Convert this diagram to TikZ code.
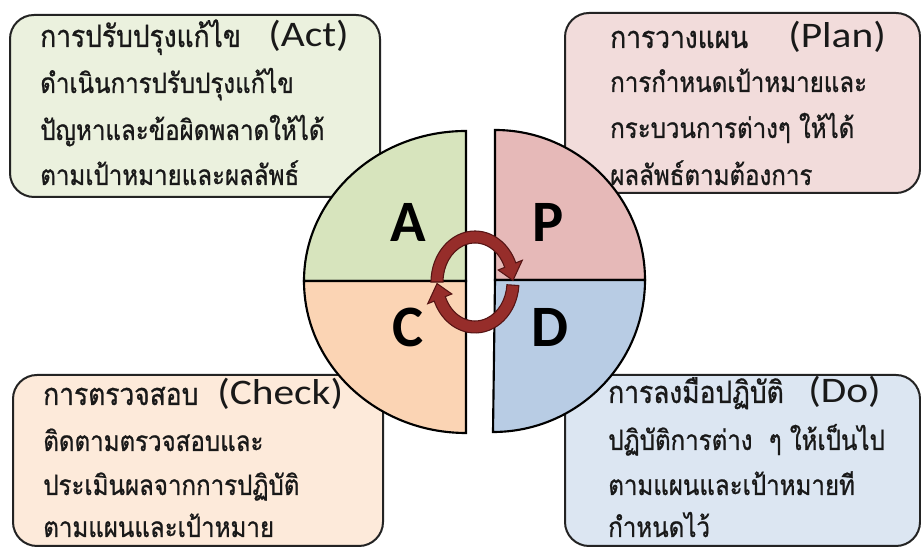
\documentclass[tikz,border=0pt]{standalone}
\usepackage{fontspec}
\newfontfamily\thaifont[Script=Thai,FakeStretch=0.86,FakeBold=0.8]{Loma}
\newfontfamily\latfont[FakeStretch=1.15]{Carlito}
\newfontfamily\pdcafont{Carlito}
\definecolor{txt}{RGB}{25,25,25}
\definecolor{bord}{RGB}{35,35,35}
\definecolor{qA}{RGB}{215,228,189}
\definecolor{bA}{RGB}{235,241,222}
\definecolor{qP}{RGB}{230,185,184}
\definecolor{bP}{RGB}{242,220,219}
\definecolor{qC}{RGB}{251,212,180}
\definecolor{bC}{RGB}{253,234,218}
\definecolor{qD}{RGB}{184,204,228}
\definecolor{bD}{RGB}{220,230,242}
\definecolor{ringfill}{RGB}{150,45,42}
\definecolor{ringline}{RGB}{85,20,20}
\tikzset{
  infobox/.style={draw=bord, line width=1.5pt, rounded corners=18pt},
  quad/.style={draw=black, line width=1.6pt, line join=miter},
  thaitext/.style={anchor=base west, inner sep=0pt, text=txt, font=\thaifont\fontsize{21pt}{23pt}\selectfont},
  thaititle/.style={anchor=base west, inner sep=0pt, text=txt, font=\thaifont\fontsize{23pt}{25pt}\selectfont},
  lattext/.style={anchor=base west, inner sep=0pt, text=txt, font=\latfont\fontsize{27pt}{30pt}\selectfont},
  pdca/.style={inner sep=0pt, text=black, font=\pdcafont\bfseries\fontsize{44pt}{48pt}\selectfont},
  ringarrow/.style={fill=ringfill, draw=ringline, line width=0.8pt, line join=miter}
}
\begin{document}
\begin{tikzpicture}[x=0.75pt,y=0.75pt]
\useasboundingbox (0,0) rectangle (921,548);
\fill[white] (0,0) rectangle (921,548);
% boxes
\draw[infobox, fill=bA] (10,351) rectangle (380,533);
\draw[infobox, fill=bP] (565,355) rectangle (920,535);
\draw[infobox, fill=bC] (13,2) rectangle (383,173);
\draw[infobox, fill=bD] (565,2) rectangle (920,173);
% quadrants
\coordinate (L) at (466,267);
\coordinate (R) at (495,268);
\draw[quad, fill=qA] (L) -- ++(-162,0) arc[start angle=180, end angle=90, x radius=162, y radius=150] -- cycle;
\draw[quad, fill=qC] (L) -- ++(-162,0) arc[start angle=180, end angle=270, x radius=162, y radius=152] -- cycle;
\draw[quad, fill=qP] (R) -- ++(0,150) arc[start angle=90, end angle=0, radius=150] -- cycle;
\draw[quad, fill=qD] (R) -- ++(150,0) arc[start angle=0, end angle=-90, radius=152] -- cycle;
% letters
\node[pdca] (la) at (408,326) {A};
\node[pdca] (lp) at (548,326) {P};
\node[pdca] (lc) at (408,221) {C};
\node[pdca] (ld) at (550,221) {D};
% ring arrows
\coordinate (O) at (475,266);
\path[ringarrow] ([shift={(O)}]180:44 and 51) arc[start angle=180, end angle=22, x radius=44, y radius=51]
  -- ([shift={(O)}]22:51 and 58) -- ([shift={(O)}]2:38 and 45) -- ([shift={(O)}]22:25 and 32)
  -- ([shift={(O)}]22:32 and 39) arc[start angle=22, end angle=180, x radius=32, y radius=39] -- cycle;
\path[ringarrow] ([shift={(O)}]-4:44 and 51) arc[start angle=-4, end angle=-158, x radius=44, y radius=51]
  -- ([shift={(O)}]-158:51 and 58) -- ([shift={(O)}]-178:38 and 45) -- ([shift={(O)}]-158:25 and 32)
  -- ([shift={(O)}]-158:32 and 39) arc[start angle=-158, end angle=-4, x radius=32, y radius=39] -- cycle;
% Act texts
\node[thaititle] (a1) at (40,501) {การปรับปรุงแก้ไข};
\node[lattext] (a1l) at (268,501) {(Act)};
\node[thaitext] (a2) at (40,455) {ดำเนินการปรับปรุงแก้ไข};
\node[thaitext] (a3) at (40,408) {ปัญหาและข้อผิดพลาดให้ได้};
\node[thaitext] (a4) at (40,363) {ตามเป้าหมายและผลลัพธ์};
% Plan texts
\node[thaititle] (p1) at (610,500) {การวางแผน};
\node[lattext] (p1l) at (788,500) {(Plan)};
\node[thaitext] (p2) at (610,456) {การกำหนดเป้าหมายและ};
\node[thaitext] (p3) at (610,410) {กระบวนการต่างๆ ให้ได้};
\node[thaitext] (p4) at (610,363) {ผลลัพธ์ตามต้องการ};
% Check texts
\node[thaititle] (c1) at (43,143) {การตรวจสอบ};
\node[lattext] (c1l) at (217,143) {(Check)};
\node[thaitext] (c2) at (43,97) {ติดตามตรวจสอบและ};
\node[thaitext] (c3) at (43,53) {ประเมินผลจากการปฏิบัติ};
\node[thaitext] (c4) at (43,11) {ตามแผนและเป้าหมาย};
% Do texts
\node[thaititle] (d1) at (608,145) {การลงมือปฏิบัติ};
\node[lattext] (d1l) at (808,145) {(Do)};
\node[thaitext] (d2) at (608,98) {ปฏิบัติการต่าง\ \ ๆ ให้เป็นไป};
\node[thaitext] (d3) at (608,53) {ตามแผนและเป้าหมายที};
\node[thaitext] (d4) at (608,11) {กำหนดไว้};
\end{tikzpicture}
\end{document}
